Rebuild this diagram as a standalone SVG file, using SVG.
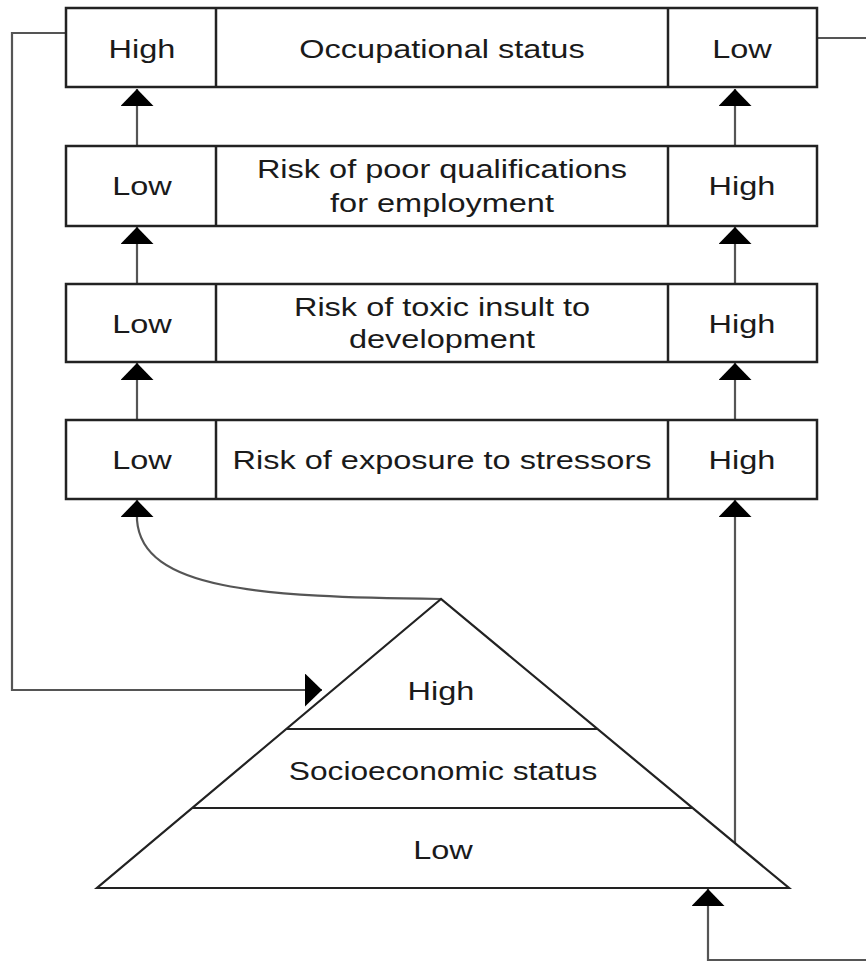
<svg xmlns="http://www.w3.org/2000/svg" width="866" height="961" viewBox="0 0 866 961">
<style>
.box{fill:#fff;stroke:#222;stroke-width:2.5}
.div{stroke:#222;stroke-width:2.5}
.con{fill:none;stroke:#555;stroke-width:2.2}
.arr{marker-end:url(#ah)}
text{font-family:"Liberation Sans",Arial,sans-serif;font-size:26px;fill:#1a1a1a;text-anchor:middle}
</style>
<defs>
<marker id="ah" viewBox="0 0 17 33" refX="17" refY="16.5" markerWidth="17" markerHeight="33" markerUnits="userSpaceOnUse" orient="auto">
<path d="M0,0 L17,16.5 L0,33 Z" fill="#000"/>
</marker>
</defs>
<rect width="866" height="961" fill="#fff"/>

<g id="connectors">
<path class="con arr" d="M137,146 V89"/>
<path class="con arr" d="M137,284 V227"/>
<path class="con arr" d="M137,420 V363"/>
<path class="con arr" d="M735,146 V89"/>
<path class="con arr" d="M735,284 V227"/>
<path class="con arr" d="M735,420 V363"/>
<path class="con arr" d="M735,843 V500"/>
<path class="con arr" d="M441,599 C260,597 142,590 137,520 L137,500"/>
<path class="con arr" d="M66,33 H12 V690 H322"/>
<path class="con" d="M817,38 H866"/>
<path class="con arr" d="M866,960 H708 V889"/>
</g>

<g id="occupational">
<rect class="box" x="66" y="8" width="751" height="79"/>
<line class="div" x1="216" y1="8" x2="216" y2="87"/>
<line class="div" x1="668" y1="8" x2="668" y2="87"/>
<text transform="translate(142,58) scale(1.25,1)">High</text>
<text transform="translate(442,58) scale(1.25,1)">Occupational status</text>
<text transform="translate(742,58) scale(1.25,1)">Low</text>
</g>

<g id="qualifications">
<rect class="box" x="66" y="146" width="751" height="80"/>
<line class="div" x1="216" y1="146" x2="216" y2="226"/>
<line class="div" x1="668" y1="146" x2="668" y2="226"/>
<text transform="translate(142,195) scale(1.25,1)">Low</text>
<text transform="translate(442,178) scale(1.25,1)">Risk of poor qualifications</text>
<text transform="translate(442,212) scale(1.25,1)">for employment</text>
<text transform="translate(742,195) scale(1.25,1)">High</text>
</g>

<g id="toxic">
<rect class="box" x="66" y="284" width="751" height="78"/>
<line class="div" x1="216" y1="284" x2="216" y2="362"/>
<line class="div" x1="668" y1="284" x2="668" y2="362"/>
<text transform="translate(142,333) scale(1.25,1)">Low</text>
<text transform="translate(442,316) scale(1.25,1)">Risk of toxic insult to</text>
<text transform="translate(442,348) scale(1.25,1)">development</text>
<text transform="translate(742,333) scale(1.25,1)">High</text>
</g>

<g id="stressors">
<rect class="box" x="66" y="420" width="751" height="79"/>
<line class="div" x1="216" y1="420" x2="216" y2="499"/>
<line class="div" x1="668" y1="420" x2="668" y2="499"/>
<text transform="translate(142,469) scale(1.25,1)">Low</text>
<text transform="translate(442,469) scale(1.25,1)">Risk of exposure to stressors</text>
<text transform="translate(742,469) scale(1.25,1)">High</text>
</g>

<g id="pyramid">
<path d="M441,599 L97,888 L789,888 Z" fill="#fff" stroke="#222" stroke-width="2.2" stroke-linejoin="miter"/>
<line x1="286" y1="729" x2="597" y2="729" stroke="#222" stroke-width="2.2"/>
<line x1="192" y1="808" x2="693" y2="808" stroke="#222" stroke-width="2.2"/>
<text transform="translate(441,700) scale(1.25,1)">High</text>
<text transform="translate(443,780) scale(1.22,1)">Socioeconomic status</text>
<text transform="translate(443,859) scale(1.25,1)">Low</text>
</g>
</svg>
